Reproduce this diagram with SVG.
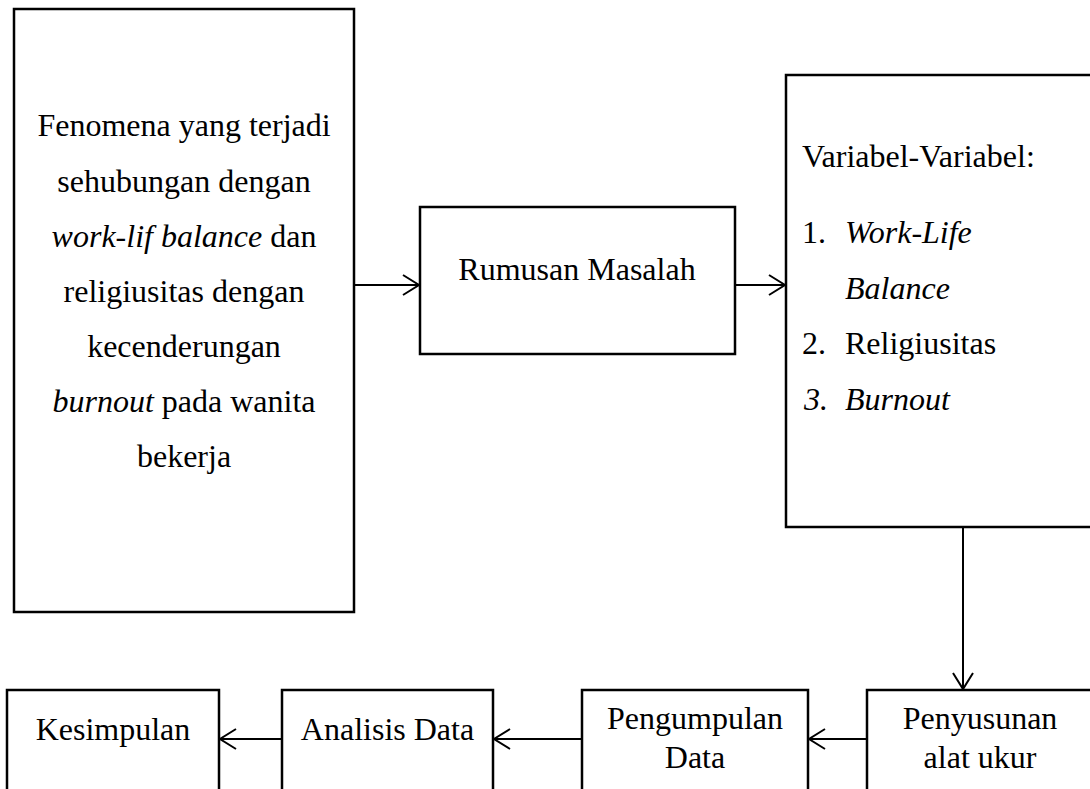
<svg xmlns="http://www.w3.org/2000/svg" width="1090" height="789" viewBox="0 0 1090 789">
<style>
.box{fill:#fff;stroke:#000;stroke-width:2.5}
.t{font-family:"Liberation Serif","Times New Roman",serif;font-size:32px;fill:#000}
.c{text-anchor:middle}
.i{font-style:italic}
.con{stroke:#000;stroke-width:2;fill:none}
</style>
<defs>
<marker id="ah" markerUnits="userSpaceOnUse" markerWidth="24" markerHeight="24" viewBox="-20 -12 24 24" refX="0" refY="0" orient="auto">
<path d="M-16,-10 L0,0 L-16,10" fill="none" stroke="#000" stroke-width="2"/>
</marker>
</defs>
<rect width="1090" height="789" fill="#fff"/>
<g id="fenomena">
<rect class="box" x="14" y="9" width="340" height="603"/>
<text class="t c" x="184" y="136">Fenomena yang terjadi</text>
<text class="t c" x="184" y="192">sehubungan dengan</text>
<text class="t c" x="184" y="247"><tspan class="i">work-lif balance</tspan> dan</text>
<text class="t c" x="184" y="302">religiusitas dengan</text>
<text class="t c" x="184" y="357">kecenderungan</text>
<text class="t c" x="184" y="412"><tspan class="i">burnout</tspan> pada wanita</text>
<text class="t c" x="184" y="467">bekerja</text>
</g>
<g id="rumusan">
<rect class="box" x="420" y="207" width="315" height="147"/>
<text class="t c" x="577" y="280">Rumusan Masalah</text>
</g>
<g id="variabel">
<rect class="box" x="786" y="75" width="320" height="452"/>
<text class="t" x="802" y="167">Variabel-Variabel:</text>
<text class="t" x="802" y="243">1.</text>
<text class="t i" x="845" y="243">Work-Life</text>
<text class="t i" x="845" y="299">Balance</text>
<text class="t" x="802" y="354">2.</text>
<text class="t" x="845" y="354">Religiusitas</text>
<text class="t i" x="804" y="410">3.</text>
<text class="t i" x="845" y="410">Burnout</text>
</g>
<g id="penyusunan">
<rect class="box" x="867" y="690" width="226" height="120"/>
<text class="t c" x="980" y="729">Penyusunan</text>
<text class="t c" x="980" y="768">alat ukur</text>
</g>
<g id="pengumpulan">
<rect class="box" x="582" y="690" width="226" height="120"/>
<text class="t c" x="695" y="729">Pengumpulan</text>
<text class="t c" x="695" y="768">Data</text>
</g>
<g id="analisis">
<rect class="box" x="282" y="690" width="211" height="120"/>
<text class="t c" x="387.5" y="740">Analisis Data</text>
</g>
<g id="kesimpulan">
<rect class="box" x="7" y="690" width="212" height="120"/>
<text class="t c" x="113" y="740">Kesimpulan</text>
</g>
<g id="connectors">
<line class="con" x1="354" y1="285" x2="419" y2="285" marker-end="url(#ah)"/>
<line class="con" x1="735" y1="285" x2="785" y2="285" marker-end="url(#ah)"/>
<line class="con" x1="963" y1="527" x2="963" y2="689" marker-end="url(#ah)"/>
<line class="con" x1="867" y1="739" x2="809" y2="739" marker-end="url(#ah)"/>
<line class="con" x1="582" y1="739" x2="494" y2="739" marker-end="url(#ah)"/>
<line class="con" x1="282" y1="739" x2="220" y2="739" marker-end="url(#ah)"/>
</g>
</svg>
